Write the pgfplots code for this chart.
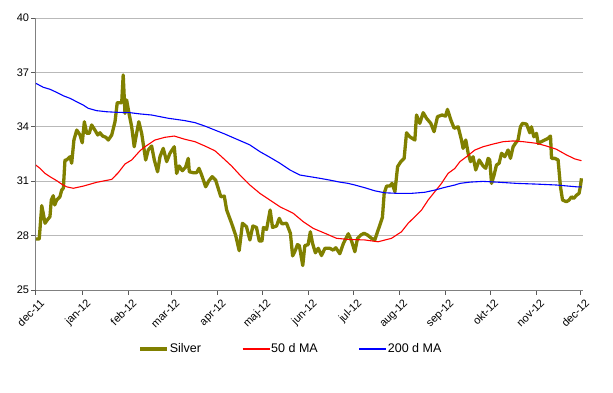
\documentclass[border=0pt]{standalone}
\usepackage{pgfplots}
\pgfplotsset{compat=1.18}
\usepackage{fontspec}
\setmainfont{Liberation Sans}
\definecolor{olivesilver}{RGB}{128,128,0}
\begin{document}
\begin{tikzpicture}[x=1pt,y=1pt]
\path[use as bounding box] (0,0) rectangle (613,392);
\begin{axis}[
  at={(35.8pt,102pt)}, anchor=south west,
  scale only axis, width=547pt, height=272pt,
  xmin=0, xmax=367.4, ymin=25, ymax=40,
  ytick={25,28,31,34,37,40},
  xtick={0,31,62,91,122,152,183,213,244,275,305,336,366},
  xticklabels={dec-11,jan-12,feb-12,mar-12,apr-12,maj-12,jun-12,jul-12,aug-12,sep-12,okt-12,nov-12,dec-12},
  axis x line*=bottom, axis y line*=left,
  axis line style={color=gray, line width=0.8pt},
  ymajorgrids, grid style={color=gray!55, line width=0.8pt},
  tick align=outside, major tick length=4.5pt,
  tick style={color=gray!70!black, line width=0.8pt},
  /pgf/number format/assume math mode=true,
  ticklabel style={font=\fontsize{11}{13}\selectfont},
  yticklabel style={inner sep=2pt},
  xticklabel style={rotate=45, anchor=north east, inner sep=1pt, xshift=1pt, yshift=-4pt},
  legend columns=3,
  legend style={draw=none, at={(0.182,-0.217)}, anchor=west,
    font=\fontsize{12.5}{14}\selectfont,
    nodes={inner xsep=1pt},
    /tikz/every even column/.append style={column sep=40pt}},
  legend image code/.code={\draw[#1] (0pt,0pt) -- (27pt,0pt);},
]
\addplot[olivesilver, line width=3.3pt, line join=round] coordinates {
(0,27.81)(2.3,27.81)(4.0,29.65)(5.0,29.23)(6.2,28.68)(7.7,28.86)(9.5,29.04)(10.4,29.96)
(11.7,30.20)(12.7,29.69)(14.0,29.96)(16.2,30.14)(17.4,30.51)(18.5,30.61)(19.6,32.17)(20.7,32.17)
(23.0,32.35)(24.1,31.99)(25.6,33.27)(27.5,33.82)(29.7,33.55)(31.2,33.12)(32.6,34.28)(34.2,33.64)
(35.9,33.64)(37.5,34.10)(39.7,33.82)(41.6,33.55)(43.1,33.67)(44.9,33.49)(47.1,33.42)(48.7,33.27)
(51.0,33.55)(53.2,34.28)(54.7,35.33)(57.7,35.33)(58.7,36.86)(59.9,34.74)(61.0,35.48)(62.6,34.74)
(64.4,34.00)(66.1,32.90)(67.7,33.64)(69.2,34.28)(71.1,33.64)(73.8,32.17)(75.5,32.72)(77.8,32.94)
(79.6,32.17)(81.8,31.52)(83.4,32.35)(85.6,32.81)(87.9,32.08)(90.1,32.54)(93.0,32.90)(94.6,31.43)
(96.3,31.84)(98.4,31.58)(100.6,31.77)(102.4,32.26)(103.1,31.52)(105.7,31.47)(108.0,31.47)(109.6,31.71)
(111.4,31.34)(114.1,30.69)(116.3,31.03)(118.5,31.25)(120.8,31.06)(122.5,30.61)(124.3,30.14)(126.6,30.18)
(128.2,29.41)(131.5,28.68)(134.2,28.03)(136.6,27.17)(138.8,28.68)(141.5,28.49)(143.8,27.76)(145.8,28.53)
(148.2,28.45)(150.1,27.70)(151.9,27.70)(152.9,28.45)(155.0,28.34)(157.4,29.41)(159.0,28.45)(161.7,28.53)
(163.5,28.95)(165.3,28.65)(168.4,28.68)(171.0,28.13)(172.5,26.88)(174.4,27.20)(175.7,27.50)(177.0,27.45)
(179.3,26.35)(180.7,27.45)(182.9,27.50)(184.4,28.21)(185.9,27.57)(187.8,27.05)(189.7,27.30)(191.9,26.90)
(194.2,27.30)(197.5,27.30)(199.7,27.20)(201.5,27.33)(204.2,27.00)(206.6,27.57)(209.9,28.10)(212.1,27.70)
(214.3,27.11)(216.1,27.85)(218.3,28.03)(220.5,28.13)(222.8,28.03)(225.5,27.85)(227.7,27.76)(229.5,28.21)
(231.1,28.58)(232.8,29.00)(234.0,30.33)(235.6,30.73)(237.8,30.73)(239.3,30.88)(241.2,30.42)(243.0,31.80)
(245.2,32.08)(247.4,32.26)(249.0,33.67)(251.2,33.45)(254.6,33.27)(255.7,34.65)(257.9,34.19)(260.2,34.78)
(262.4,34.47)(265.3,34.19)(267.5,33.73)(269.8,34.56)(272.9,34.65)(275.2,34.59)(276.5,34.96)(278.8,34.37)
(281.0,33.92)(283.7,34.00)(285.9,33.27)(287.0,32.81)(288.8,33.27)(290.4,32.54)(292.0,32.08)(293.7,32.35)
(295.5,31.62)(297.8,32.17)(300.4,31.84)(302.2,31.71)(303.8,32.26)(304.9,32.17)(306.1,30.88)(307.8,31.34)
(309.4,31.89)(311.2,31.99)(312.8,32.54)(315.0,32.35)(317.2,32.72)(318.8,32.26)(320.6,32.90)(322.4,33.12)
(323.9,33.27)(325.5,34.00)(326.9,34.19)(329.6,34.15)(331.8,33.67)(332.9,34.00)(334.5,33.45)(336.3,33.64)
(337.4,33.09)(339.6,33.18)(341.8,33.27)(344.1,33.36)(345.7,33.49)(346.4,32.26)(348.6,32.26)(350.8,32.17)
(352.4,30.69)(353.8,29.96)(356.4,29.87)(358.2,29.96)(359.8,30.14)(361.3,30.05)(363.2,30.23)(364.9,30.33)
(365.8,30.73)(366.5,31.16)
};
\addlegendentry{Silver}
\addplot[red, line width=1.1pt] coordinates {
(0,31.89)(2.8,31.71)(6.2,31.43)(9.5,31.25)(14.0,31.03)(17.4,30.84)(20.7,30.69)(25.2,30.61)
(31.9,30.73)(40.9,30.94)(51.0,31.10)(55.4,31.47)(59.9,31.95)(64.4,32.17)(70.0,32.68)(73.3,32.90)
(80.0,33.27)(86.7,33.42)(93.0,33.49)(100.2,33.31)(106.9,33.18)(113.6,32.94)(120.3,32.68)(124.8,32.35)
(131.5,31.84)(137.1,31.34)(143.8,30.79)(150.5,30.33)(157.2,29.96)(164.0,29.59)(172.9,29.23)(179.6,28.77)
(186.3,28.40)(195.3,28.09)(202.0,27.85)(209.8,27.79)(221.0,27.76)(229.9,27.66)(238.9,27.85)(245.6,28.21)
(250.1,28.68)(254.6,29.04)(259.1,29.41)(263.5,29.96)(268.0,30.42)(272.5,30.88)(276.9,31.43)(281.4,31.70)
(284.9,32.08)(289.3,32.35)(294.9,32.72)(300.4,32.90)(307.2,33.05)(313.9,33.18)(320.6,33.22)(327.3,33.18)
(336.3,33.09)(343.0,32.94)(349.7,32.76)(356.4,32.45)(362.0,32.23)(366.5,32.13)
};
\addlegendentry{50 d MA}
\addplot[blue, line width=1.1pt] coordinates {
(0,36.40)(5.0,36.18)(9.5,36.07)(14.0,35.90)(18.5,35.71)(23.0,35.57)(27.5,35.38)(31.9,35.20)
(35.2,35.02)(40.9,34.89)(47.6,34.83)(54.3,34.80)(63.2,34.78)(70.0,34.71)(77.8,34.65)(89.0,34.47)
(100.2,34.34)(106.9,34.23)(113.6,34.04)(120.3,33.82)(127.0,33.60)(133.7,33.36)(140.5,33.12)(143.8,33.00)
(150.5,32.63)(157.2,32.32)(164.0,31.99)(170.7,31.62)(177.4,31.34)(184.1,31.25)(190.8,31.16)(197.5,31.06)
(204.2,30.95)(209.8,30.88)(214.3,30.79)(221.0,30.64)(227.7,30.47)(234.4,30.36)(243.4,30.33)(252.4,30.33)
(261.3,30.39)(268.0,30.51)(274.7,30.66)(281.4,30.79)(284.9,30.88)(291.6,30.95)(300.4,30.99)(311.6,30.94)
(322.9,30.88)(336.3,30.84)(349.7,30.79)(363.2,30.69)(366.5,30.69)
};
\addlegendentry{200 d MA}
\end{axis}
\end{tikzpicture}
\end{document}
